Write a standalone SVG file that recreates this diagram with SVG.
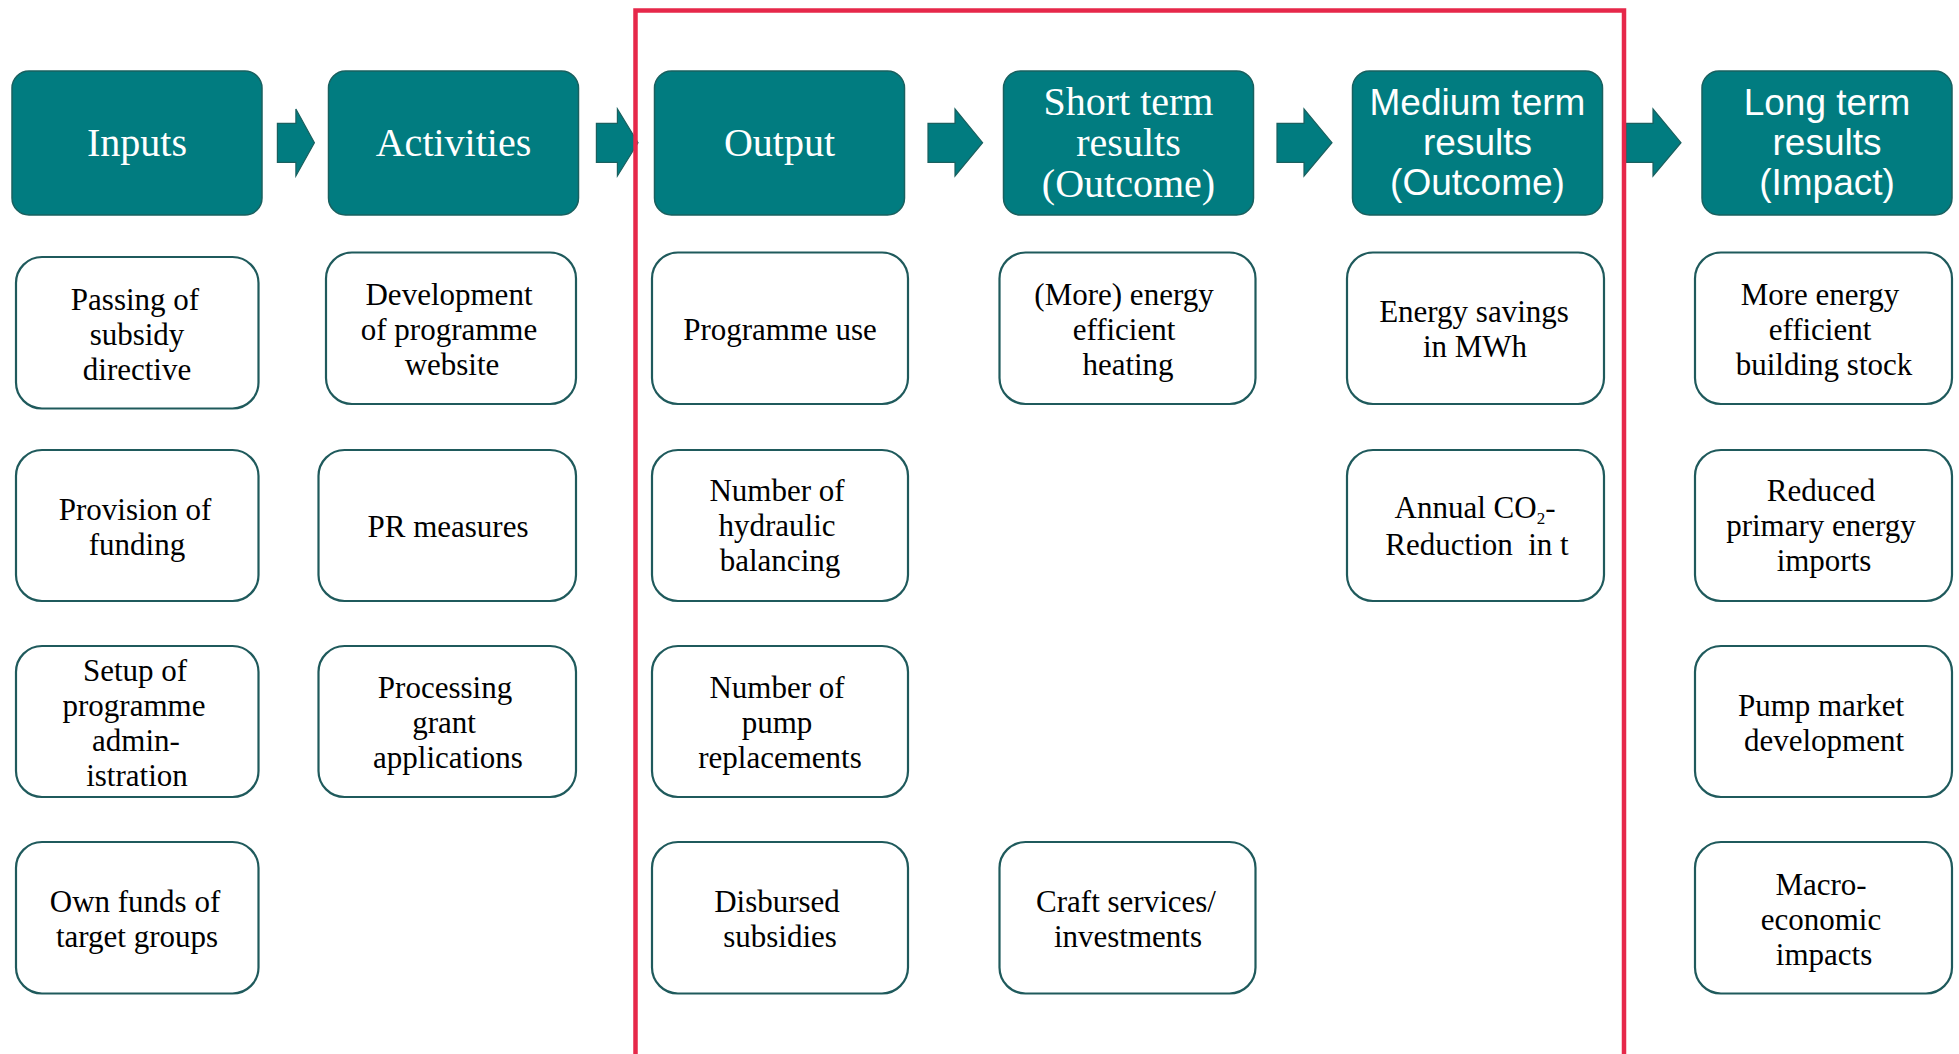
<svg xmlns="http://www.w3.org/2000/svg" width="1959" height="1054" viewBox="0 0 1959 1054">
<style>
.hd{fill:#017c80;stroke:#19605f;stroke-width:1.5}
.bx{fill:#fff;stroke:#1f5a5c;stroke-width:2.2}
.ar{fill:#017c80;stroke:#19605f;stroke-width:1.2}
.ht{font-family:"Liberation Serif",serif;font-size:40px;fill:#fff;text-anchor:middle}
.hs{font-family:"Liberation Sans",sans-serif;font-size:37px;fill:#fff;text-anchor:middle}
.bt{font-family:"Liberation Serif",serif;font-size:31px;fill:#000;text-anchor:middle}
.red{fill:none;stroke:#e6284a;stroke-width:4.5}
</style>
<rect width="1959" height="1054" fill="#fff"/>
<g id="connectors">
<path class="ar" d="M277.4 123.3H295.9V109L314.4 142.7L295.9 176V162.3H277.4Z"/>
<path class="ar" d="M596.4 123.3H617.4V109L638 142.7L617.4 176V162.3H596.4Z"/>
<path class="ar" d="M928 123.3H955V109L982.6 142.7L955 176V162.3H928Z"/>
<path class="ar" d="M1277 123.3H1304V109L1332 142.7L1304 176V162.3H1277Z"/>
<path class="ar" d="M1626 123.3H1653V109L1681 142.7L1653 176V162.3H1626Z"/>
</g>
<g id="h-inputs"><rect class="hd" x="12" y="71" width="250" height="144" rx="17"/><text class="ht" x="137" y="156">Inputs</text></g>
<g id="h-activities"><rect class="hd" x="328.5" y="71" width="250" height="144" rx="17"/><text class="ht" x="453.5" y="156">Activities</text></g>
<g id="h-output"><rect class="hd" x="654.5" y="71" width="250" height="144" rx="17"/><text class="ht" x="779.5" y="156">Output</text></g>
<g id="h-short"><rect class="hd" x="1003.5" y="71" width="250" height="144" rx="17"/><text class="ht" x="1128.5" y="115">Short term</text><text class="ht" x="1128.5" y="156">results</text><text class="ht" x="1128.5" y="197">(Outcome)</text></g>
<g id="h-medium"><rect class="hd" x="1352.5" y="71" width="250" height="144" rx="17"/><text class="hs" x="1477.5" y="115">Medium term</text><text class="hs" x="1477.5" y="155">results</text><text class="hs" x="1477.5" y="195">(Outcome)</text></g>
<g id="h-long"><rect class="hd" x="1702" y="71" width="250" height="144" rx="17"/><text class="hs" x="1827" y="115">Long term</text><text class="hs" x="1827" y="155">results</text><text class="hs" x="1827" y="195">(Impact)</text></g>

<g id="n-passing"><rect class="bx" x="16" y="257" width="242.5" height="151.5" rx="26"/><text class="bt" x="135" y="310">Passing of</text><text class="bt" x="137" y="345">subsidy</text><text class="bt" x="137" y="380">directive</text></g>
<g id="n-provision"><rect class="bx" x="16" y="450" width="242.5" height="151" rx="26"/><text class="bt" x="135" y="520">Provision of</text><text class="bt" x="137" y="555">funding</text></g>
<g id="n-setup"><rect class="bx" x="16" y="646" width="242.5" height="151" rx="26"/><text class="bt" x="135" y="681">Setup of</text><text class="bt" x="134" y="716">programme</text><text class="bt" x="136" y="751">admin-</text><text class="bt" x="137" y="786">istration</text></g>
<g id="n-ownfunds"><rect class="bx" x="16" y="842" width="242.5" height="151.5" rx="26"/><text class="bt" x="135" y="912">Own funds of</text><text class="bt" x="137" y="947">target groups</text></g>

<g id="n-development"><rect class="bx" x="326" y="252.5" width="250" height="151.5" rx="26"/><text class="bt" x="449" y="305">Development</text><text class="bt" x="449" y="340">of programme</text><text class="bt" x="452" y="375">website</text></g>
<g id="n-pr"><rect class="bx" x="318.5" y="450" width="257.5" height="151" rx="26"/><text class="bt" x="448" y="537">PR measures</text></g>
<g id="n-processing"><rect class="bx" x="318.5" y="646" width="257.5" height="151" rx="26"/><text class="bt" x="445" y="698">Processing</text><text class="bt" x="444" y="733">grant</text><text class="bt" x="448" y="768">applications</text></g>

<g id="n-proguse"><rect class="bx" x="652" y="252.5" width="256" height="151.5" rx="26"/><text class="bt" x="780" y="340">Programme use</text></g>
<g id="n-hydraulic"><rect class="bx" x="652" y="450" width="256" height="151" rx="26"/><text class="bt" x="777" y="501">Number of</text><text class="bt" x="777" y="536">hydraulic</text><text class="bt" x="780" y="571">balancing</text></g>
<g id="n-pump"><rect class="bx" x="652" y="646" width="256" height="151" rx="26"/><text class="bt" x="777" y="698">Number of</text><text class="bt" x="777" y="733">pump</text><text class="bt" x="780" y="768">replacements</text></g>
<g id="n-disbursed"><rect class="bx" x="652" y="842" width="256" height="151.5" rx="26"/><text class="bt" x="777" y="912">Disbursed</text><text class="bt" x="780" y="947">subsidies</text></g>

<g id="n-moreheating"><rect class="bx" x="999.5" y="252.5" width="256" height="151.5" rx="26"/><text class="bt" x="1124" y="305">(More) energy</text><text class="bt" x="1124" y="340">efficient</text><text class="bt" x="1128" y="375">heating</text></g>
<g id="n-craft"><rect class="bx" x="999.5" y="842" width="256" height="151.5" rx="26"/><text class="bt" x="1126" y="912">Craft services/</text><text class="bt" x="1128" y="947">investments</text></g>

<g id="n-savings"><rect class="bx" x="1347" y="252.5" width="257" height="151.5" rx="26"/><text class="bt" x="1474" y="322">Energy savings</text><text class="bt" x="1475" y="357">in MWh</text></g>
<g id="n-co2"><rect class="bx" x="1347" y="450" width="257" height="151" rx="26"/><text class="bt" x="1475" y="518">Annual CO<tspan font-size="17" dy="6">2</tspan><tspan dy="-6">-</tspan></text><text class="bt" x="1477" y="555" xml:space="preserve">Reduction  in t</text></g>

<g id="n-building"><rect class="bx" x="1695" y="252.5" width="257" height="151.5" rx="26"/><text class="bt" x="1820" y="305">More energy</text><text class="bt" x="1820" y="340">efficient</text><text class="bt" x="1824" y="375">building stock</text></g>
<g id="n-reduced"><rect class="bx" x="1695" y="450" width="257" height="151" rx="26"/><text class="bt" x="1821" y="501">Reduced</text><text class="bt" x="1821" y="536">primary energy</text><text class="bt" x="1824" y="571">imports</text></g>
<g id="n-pumpmarket"><rect class="bx" x="1695" y="646" width="257" height="151" rx="26"/><text class="bt" x="1821" y="716">Pump market</text><text class="bt" x="1824" y="751">development</text></g>
<g id="n-macro"><rect class="bx" x="1695" y="842" width="257" height="151.5" rx="26"/><text class="bt" x="1821" y="895">Macro-</text><text class="bt" x="1821" y="930">economic</text><text class="bt" x="1824" y="965">impacts</text></g>

<path class="red" d="M635.5 1054V10.5H1624V1054"/>
</svg>
